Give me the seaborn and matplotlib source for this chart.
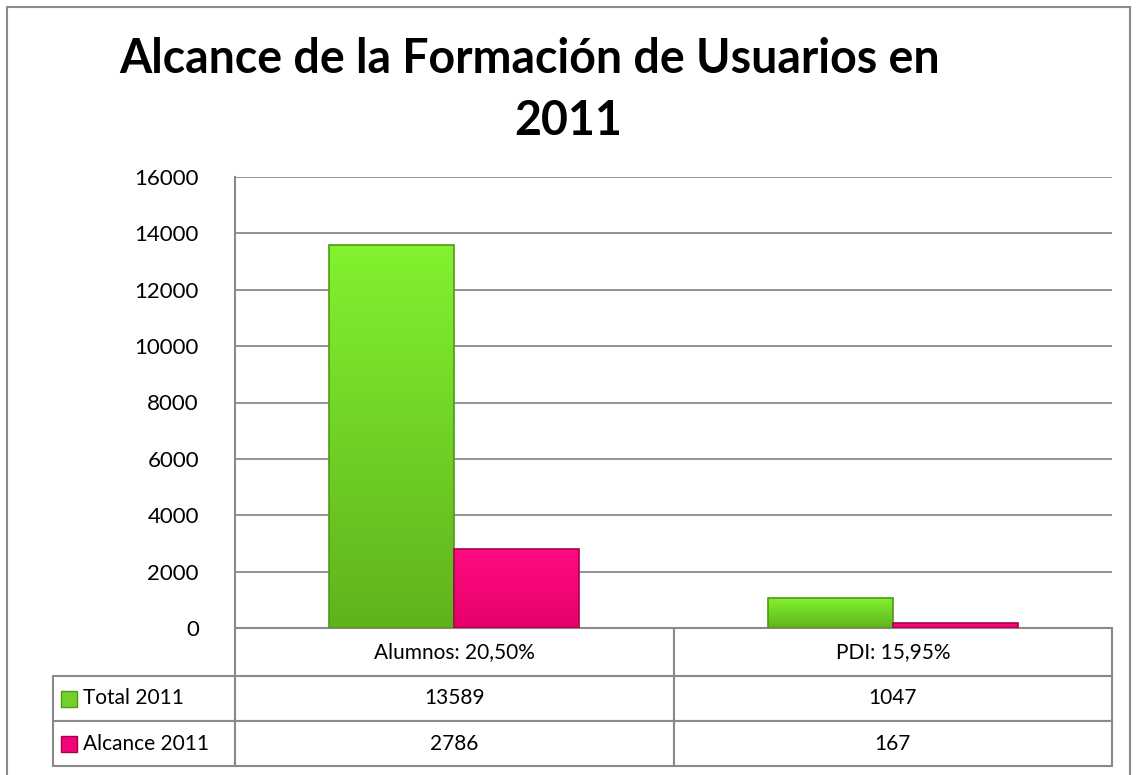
import numpy as np
import pandas as pd
import matplotlib.pyplot as plt
import seaborn as sns
from matplotlib.table import Table
from matplotlib.patches import Rectangle
from matplotlib.lines import Line2D
from matplotlib.colors import LinearSegmentedColormap

# datos del gráfico
categorias = ["Alumnos: 20,50%", "PDI: 15,95%"]
series = ["Total 2011", "Alcance 2011"]
total_2011 = [13589, 1047]
alcance_2011 = [2786, 167]
colores = ["#74D12A", "#F2047A"]
degradados = [("#82F22F", "#60B21D"), ("#FF0C80", "#E6006A")]
bordes = ["#4E9A14", "#A8004F"]
yticks = list(range(0, 16001, 2000))

df = pd.DataFrame({
    "categoria": categorias * 2,
    "serie": [series[0]] * 2 + [series[1]] * 2,
    "valor": total_2011 + alcance_2011,
})

sns.set_style("white")
plt.rcParams["font.family"] = ["Lato", "DejaVu Sans"]
plt.rcParams["text.color"] = "black"
gris = "#8A8A8A"

W, H = 1137, 775
fig = plt.figure(figsize=(W / 100, H / 100), dpi=100)
ax = fig.add_axes([235 / W, 147 / H, 877 / W, 451 / H])

sns.barplot(data=df, x="categoria", y="valor", hue="serie", palette=colores,
            width=0.57, gap=0, saturation=1, legend=False, ax=ax)

ax.set_ylim(0, 16000)
ax.set_xlim(-0.5, 1.5)

# degradado vertical dentro de cada barra
grad = np.linspace(1, 0, 256).reshape(-1, 1)
for cont, borde, (c_top, c_bot) in zip(ax.containers, bordes, degradados):
    cmap = LinearSegmentedColormap.from_list("g", [c_bot, c_top])
    for barra in cont:
        barra.set_edgecolor(borde)
        barra.set_linewidth(1.2)
        x0, y0 = barra.get_x(), barra.get_y()
        im = ax.imshow(grad, cmap=cmap, aspect="auto", zorder=barra.get_zorder(),
                       extent=[x0, x0 + barra.get_width(), y0, y0 + barra.get_height()])
        im.set_clip_path(barra)
        barra.set_facecolor("none")
        barra.set_zorder(barra.get_zorder() + 0.1)

ax.set_ylim(0, 16000)
ax.set_xlim(-0.5, 1.5)
ax.set_yticks(yticks)
ax.yaxis.grid(True, color=gris, linewidth=1.3)
ax.set_axisbelow(True)
ax.set_xlabel("")
ax.set_ylabel("")
ax.tick_params(axis="x", length=0, labelbottom=False)
ax.tick_params(axis="y", left=False, length=0, pad=26,
               labelsize=16, labelcolor="black")
for lado in ["top", "right", "bottom"]:
    ax.spines[lado].set_visible(False)
ax.spines["left"].set_color(gris)
ax.spines["left"].set_linewidth(1.5)

# tabla de datos bajo el eje
w_lab, w_col = 182 / 877, 0.5
h_head, h_row = 48 / 451, 45 / 451
tabla = Table(ax, bbox=[0, -(h_head + 2 * h_row), 1, h_head + 2 * h_row])
for j, cat in enumerate(categorias):
    tabla.add_cell(0, j, w_col, h_head, text=cat, loc="center")
for i, (nombre, vals) in enumerate(zip(series, [total_2011, alcance_2011]), start=1):
    c = tabla.add_cell(i, -1, w_lab, h_row, text=nombre, loc="left")
    c.PAD = 0.165
    for j, v in enumerate(vals):
        tabla.add_cell(i, j, w_col, h_row, text=str(v), loc="center")
tabla.auto_set_font_size(False)
tabla.set_fontsize(15)
for cell in tabla.get_celld().values():
    cell.set_edgecolor(gris)
    cell.set_linewidth(1.5)
ax.add_table(tabla)

# cuadritos de leyenda en la tabla
lado_px = 16
for i, (c_top, c_bot) in enumerate(degradados, start=1):
    yc = -(h_head + (i - 0.5) * h_row)
    ax.add_patch(Rectangle(((61 - 235) / 877, yc - lado_px / 2 / 451),
                           lado_px / 877, lado_px / 451, facecolor=colores[i - 1],
                           edgecolor=bordes[i - 1], linewidth=1, transform=ax.transAxes,
                           clip_on=False))

# marco exterior
for xs, ys in [([7 / W, 7 / W], [0, 1 - 7 / H]),
               ([7 / W, 1130 / W], [1 - 7 / H, 1 - 7 / H]),
               ([1130 / W, 1130 / W], [0, 1 - 7 / H])]:
    fig.add_artist(Line2D(xs, ys, transform=fig.transFigure, color=gris, linewidth=1.5))

fig.text(530 / W, 1 - 73 / H, "Alcance de la Formación de Usuarios en",
         ha="center", va="baseline", fontsize=33.5, fontweight="bold")
fig.text(568 / W, 1 - 135 / H, "2011", ha="center", va="baseline",
         fontsize=33.5, fontweight="bold")

fig.savefig("out.png", dpi=100)
